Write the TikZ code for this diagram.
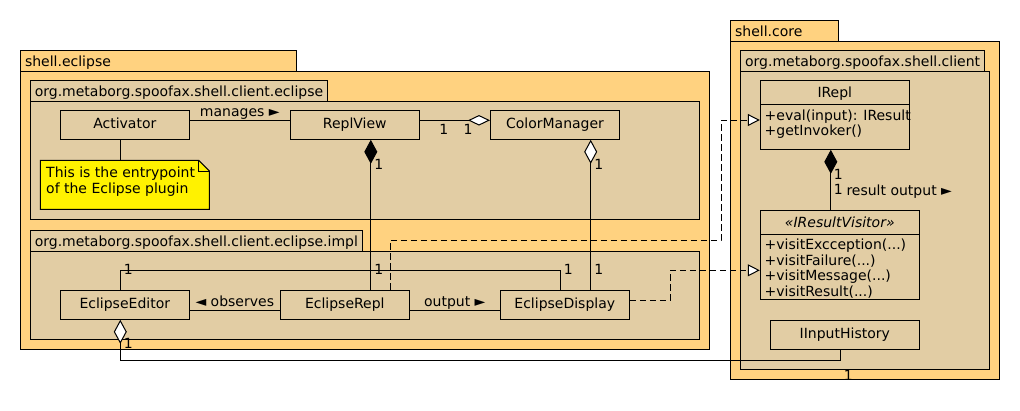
\documentclass[tikz,border=0pt]{standalone}
\usepackage{fontspec}
\setmainfont{DejaVu Sans}
\usetikzlibrary{arrows.meta,calc}
\definecolor{pkgo}{HTML}{FFD280}
\definecolor{pkgi}{HTML}{E2CDA4}
\begin{document}
\begin{tikzpicture}[x=1pt,y=-1pt, line width=1pt,
  font=\fontsize{14pt}{16pt}\selectfont,
  pkgstyle/.style={draw, fill=pkgo},
  subpkg/.style={draw, fill=pkgi},
  cls/.style={draw, fill=pkgi, minimum width=129pt, minimum height=29pt, inner sep=0pt, text height=10.5pt, text depth=3.5pt},
  lbl/.style={inner sep=0pt},
  txt/.style={inner sep=0pt, anchor=base west},
  dep/.style={dash pattern=on 6.5pt off 3.5pt},
  comp/.style={-{Diamond[length=24pt,width=13pt]}},
  aggr/.style={-{Diamond[fill=white,length=24pt,width=13pt]}},
  aggrh/.style={-{Diamond[fill=white,length=22pt,width=10.5pt]}},
  realz/.style={-{Triangle[fill=white,length=12pt,width=12pt]}}]
\useasboundingbox (0,0) rectangle (1020,410);
% packages
\draw[pkgstyle] (20,50.3) rectangle (296,71.3);
\draw[pkgstyle] (20,71.3) rectangle (709.7,349.3);
\node[txt] (p1) at (24.5,66.3) {shell.eclipse};
\draw[subpkg] (30,80.3) rectangle (327.7,101);
\draw[subpkg] (30,101) rectangle (699.7,219);
\node[txt] (p2) at (34.3,96.3) {org.metaborg.spoofax.shell.client.eclipse};
\draw[subpkg] (30,230.3) rectangle (362.3,251.3);
\draw[subpkg] (30,251.3) rectangle (699.7,339.3);
\node[txt] (p3) at (34.3,246.3) {org.metaborg.spoofax.shell.client.eclipse.impl};
\draw[pkgstyle] (730.3,20.3) rectangle (838.3,41.3);
\draw[pkgstyle] (730.3,41.3) rectangle (999.3,379.3);
\node[txt] (p4) at (734.6,36.3) {shell.core};
\draw[subpkg] (740.3,50.3) rectangle (984.3,71.3);
\draw[subpkg] (740.3,71.3) rectangle (989.3,369.3);
\node[txt] (p5) at (744.6,66.3) {org.metaborg.spoofax.shell.client};
% classes
\node[cls] (Activator) at (124.8,124.8) {Activator};
\node[cls] (ReplView) at (354.8,124.8) {ReplView};
\node[cls] (ColorManager) at (555,124.8) {ColorManager};
\node[cls] (EclipseEditor) at (124.8,304.8) {EclipseEditor};
\node[cls] (EclipseRepl) at (344.8,304.8) {EclipseRepl};
\node[cls] (EclipseDisplay) at (564.8,304.8) {EclipseDisplay};
\node[cls, minimum width=149pt] (IInputHistory) at (844.8,334.8) {IInputHistory};
\node[cls, minimum width=149pt, minimum height=69pt] (IRepl) at (834.8,114.8) {};
\node[lbl, anchor=base] (IReplName) at (834.8,97.7) {IRepl};
\draw ($(IRepl.north west)+(0.5,24.5)$) -- ($(IRepl.north east)+(-0.5,24.5)$);
\node[txt] (IReplM1) at (764.2,120) {+eval(input): IResult};
\node[txt] (IReplM2) at (764.2,135.5) {+getInvoker()};
\node[cls, minimum width=159pt, minimum height=89pt] (IResultVisitor) at (839.8,254.8) {};
\node[lbl, anchor=base, font=\fontsize{14pt}{16pt}\selectfont\itshape] (IRVName) at (839.8,227.5) {«IResultVisitor»};
\draw ($(IResultVisitor.north west)+(0.5,24.2)$) -- ($(IResultVisitor.north east)+(-0.5,24.2)$);
\node[txt] (IRVM1) at (764.2,249.5) {+visitExcception(...)};
\node[txt] (IRVM2) at (764.2,265.1) {+visitFailure(...)};
\node[txt] (IRVM3) at (764.2,280.7) {+visitMessage(...)};
\node[txt] (IRVM4) at (764.2,296.3) {+visitResult(...)};
% note
\node[minimum width=169pt, minimum height=49pt, inner sep=0pt, outer sep=0pt] (note) at (124.8,184.8) {};
\draw[fill=yellow] (note.north west) -- ([xshift=-10.7pt]note.north east) -- ([yshift=-10.7pt]note.north east) -- (note.south east) -- (note.south west) -- cycle;
\draw ([xshift=-10.7pt]note.north east) -- ([xshift=-10.7pt,yshift=-10.7pt]note.north east) -- ([yshift=-10.7pt]note.north east);
\node[txt] (notetext1) at (45.7,177.9) {This is the entrypoint};
\node[txt] (notetext2) at (45.7,193.9) {of the Eclipse plugin};
% connectors
\coordinate (ax) at ([xshift=-4.5pt]Activator.south);
\draw (ax) -- (ax |- note.north);
\draw ([yshift=4.5pt]Activator.east) -- node[lbl, anchor=base, yshift=4pt] (lmanages) {manages ►} ([yshift=4.5pt]ReplView.west);
\draw[aggrh] ([yshift=4.5pt]ReplView.east) -- ([yshift=4.5pt]ColorManager.west);
\coordinate (rvx) at ([xshift=16pt]ReplView.south);
\draw[comp] (rvx |- EclipseRepl.north) -- (rvx);
\coordinate (cmx) at ([xshift=35.7pt]ColorManager.south);
\draw[aggr] (cmx |- EclipseDisplay.north) -- (cmx);
\coordinate (eex) at ([xshift=-4.5pt]EclipseEditor.north);
\coordinate (edx) at ([xshift=-4.5pt]EclipseDisplay.north);
\coordinate (r1) at (0,270.3);
\draw (eex) -- (eex |- r1) -- (edx |- r1) -- (edx);
\draw ([yshift=-5.2pt]EclipseEditor.east) -- node[lbl, anchor=base, yshift=4pt] (lobs) {◄ observes} ([yshift=-5.2pt]EclipseRepl.west);
\draw ([yshift=-5.2pt]EclipseRepl.east) -- node[lbl, anchor=base, yshift=4pt] (lout) {output ►} ([yshift=-5.2pt]EclipseDisplay.west);
\coordinate (erx) at ([xshift=45.5pt]EclipseRepl.north);
\coordinate (irin) at ([yshift=-5.2pt]IRepl.west);
\coordinate (d1) at (721,240.3);
\draw[dep, realz] (erx) -- (erx |- d1) -- (d1) -- (d1 |- irin) -- (irin);
\coordinate (edout) at ([yshift=4.5pt]EclipseDisplay.east);
\coordinate (irvin) at ([yshift=-15.5pt]IResultVisitor.west);
\coordinate (d2) at (670.3,0);
\draw[dep, realz] (edout) -- (edout -| d2) -- (d2 |- irvin) -- (irvin);
\coordinate (irx) at ([xshift=-4pt]IRepl.south);
\draw[comp] (irx |- IResultVisitor.north) -- (irx);
\coordinate (ihx) at ([xshift=-4pt]IInputHistory.south);
\coordinate (r2) at (0,360.3);
\draw[aggr] (ihx) -- (ihx |- r2) -- (eex |- r2) -- (EclipseEditor.south -| eex);
% multiplicities
\node[lbl] (n1) at (443.7,129.8) {1};
\node[lbl] (n2) at (468,129.8) {1};
\node[lbl] (n3) at (378.7,164) {1};
\node[lbl] (n4) at (378.7,269) {1};
\node[lbl] (n5) at (598.7,164) {1};
\node[lbl] (n6) at (598.7,269) {1};
\node[lbl] (n7) at (128.3,269.5) {1};
\node[lbl] (n8) at (568.3,269) {1};
\node[lbl] (n9) at (838.3,174) {1};
\node[lbl] (n10) at (838.3,189.7) {1};
\node[txt] (lres) at (846,195) {result output ►};
\node[lbl] (n11) at (128.3,343.7) {1};
\node[lbl] (n12) at (848.3,375) {1};
\end{tikzpicture}
\end{document}
